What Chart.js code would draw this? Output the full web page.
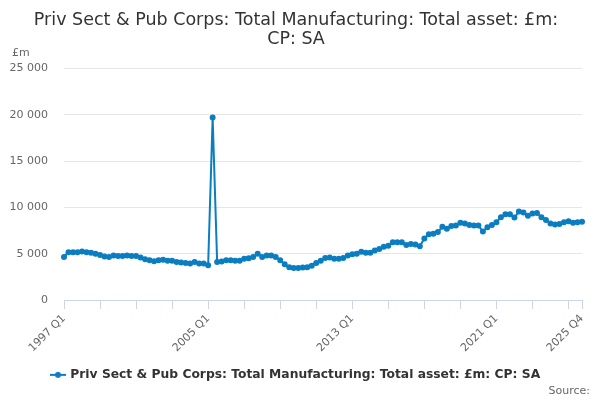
<!DOCTYPE html>
<html lang="en">
<head>
    <meta charset="UTF-8">
    <title>Total Manufacturing: Total asset</title>
    <style>
        body {
            margin: 0;
            padding: 0;
            background: #fff;
            font-family: "DejaVu Sans", sans-serif;
        }
        .wrap {
            position: relative;
            width: 600px;
            height: 400px;
        }
        .source {
            position: absolute;
            right: 10px;
            bottom: 3px;
            font-size: 11px;
            color: #666;
        }
    </style>
    <script src="https://cdn.jsdelivr.net/npm/chart.js"></script>
</head>
<body>
    <div class="wrap">
        <canvas id="chart" width="600" height="400"></canvas>
        <div class="source">Source:</div>
    </div>

    <script>
        // Quarters 1997 Q1 .. 2025 Q4
        const firstYear = 1997;
        const lastYear = 2025;
        const quarters = [];
        for (let y = firstYear; y <= lastYear; y++) {
            for (let q = 1; q <= 4; q++) quarters.push(y + ' Q' + q);
        }

        const shownLabels = ['1997 Q1', '2005 Q1', '2013 Q1', '2021 Q1', '2025 Q4'];
        const yTicks = [0, 5000, 10000, 15000, 20000, 25000];

        const seriesName = 'Priv Sect & Pub Corps: Total Manufacturing: Total asset: £m: CP: SA';
        const totalAsset = [
            4650, 5150, 5150, 5150, 5250, 5150, 5100, 5000,
            4850, 4700, 4650, 4800, 4750, 4750, 4800, 4750,
            4750, 4600, 4400, 4300, 4200, 4300, 4350, 4250,
            4250, 4100, 4050, 4000, 3950, 4100, 3950, 3950,
            3750, 19700, 4100, 4150, 4300, 4300, 4250, 4250,
            4450, 4500, 4650, 5000, 4650, 4800, 4800, 4650,
            4300, 3850, 3550, 3450, 3450, 3500, 3550, 3700,
            4000, 4250, 4550, 4600, 4450, 4450, 4550, 4800,
            4950, 5000, 5200, 5100, 5100, 5350, 5500, 5750,
            5850, 6250, 6250, 6250, 5950, 6050, 6000, 5800,
            6650, 7100, 7150, 7350, 7900, 7700, 8000, 8050,
            8350, 8250, 8100, 8050, 8050, 7400, 7850, 8100,
            8400, 8950, 9250, 9250, 8900, 9550, 9450, 9100,
            9350, 9400, 8950, 8650, 8250, 8150, 8200, 8400,
            8500, 8350, 8400, 8450
        ];

        const lineColor = '#0b7dc1';

        // legend marker: short line with a dot
        const marker = document.createElement('canvas');
        marker.width = 16;
        marker.height = 8;
        const mctx = marker.getContext('2d');
        mctx.strokeStyle = lineColor;
        mctx.lineWidth = 2;
        mctx.beginPath();
        mctx.moveTo(0, 4);
        mctx.lineTo(16, 4);
        mctx.stroke();
        mctx.fillStyle = lineColor;
        mctx.beginPath();
        mctx.arc(8, 4, 3, 0, Math.PI * 2);
        mctx.fill();

        // "£m" unit label above the y axis
        const unitLabel = {
            id: 'unitLabel',
            afterDraw(chart) {
                const c = chart.ctx;
                c.save();
                c.font = '11px "DejaVu Sans"';
                c.fillStyle = '#666';
                c.textAlign = 'left';
                c.textBaseline = 'middle';
                c.fillText('£m', 12, chart.chartArea.top - 15);
                c.restore();
            }
        };

        const tickIdx = i => i % 8 === 0 || i === quarters.length - 1;

        new Chart(document.getElementById('chart'), {
            type: 'line',
            data: {
                labels: quarters,
                datasets: [{
                    label: seriesName,
                    data: totalAsset,
                    borderColor: lineColor,
                    backgroundColor: lineColor,
                    borderWidth: 2,
                    pointRadius: 2,
                    pointHoverRadius: 3,
                    tension: 0
                }]
            },
            options: {
                responsive: false,
                animation: false,
                layout: { padding: { left: 10, right: 18, top: 0, bottom: 9 } },
                plugins: {
                    title: {
                        display: true,
                        text: ['Priv Sect & Pub Corps: Total Manufacturing: Total asset: £m:', 'CP: SA'],
                        color: '#333',
                        font: { family: 'DejaVu Sans', size: 17.5, weight: 'normal', lineHeight: 1.1 },
                        padding: { top: 11, bottom: 19 }
                    },
                    legend: {
                        position: 'bottom',
                        labels: {
                            usePointStyle: true,
                            pointStyle: marker,
                            color: '#333',
                            font: { family: 'DejaVu Sans', size: 12.3, weight: 'bold' },
                            padding: 11
                        }
                    },
                    tooltip: { enabled: false }
                },
                scales: {
                    x: {
                        grid: {
                            drawOnChartArea: false,
                            tickLength: 9,
                            color: ctx => tickIdx(ctx.index) ? '#ccd6eb' : 'rgba(0,0,0,0)'
                        },
                        border: { color: '#ccd6eb' },
                        ticks: {
                            autoSkip: false,
                            minRotation: 45,
                            maxRotation: 45,
                            color: '#666',
                            font: { family: 'DejaVu Sans', size: 11 },
                            callback: function (v, i) {
                                const l = quarters[i];
                                return shownLabels.includes(l) ? l : '';
                            }
                        }
                    },
                    y: {
                        min: 0,
                        max: 25000,
                        afterBuildTicks: axis => { axis.ticks = yTicks.map(v => ({ value: v })); },
                        afterFit: axis => { axis.width = 54; },
                        grid: { color: '#e6e6e6', drawTicks: false },
                        border: { display: false },
                        ticks: {
                            padding: 16,
                            color: '#666',
                            font: { family: 'DejaVu Sans', size: 11 },
                            callback: v => String(v).replace(/\B(?=(\d{3})+(?!\d))/g, ' ')
                        }
                    }
                }
            },
            plugins: [unitLabel]
        });
    </script>
</body>
</html>
